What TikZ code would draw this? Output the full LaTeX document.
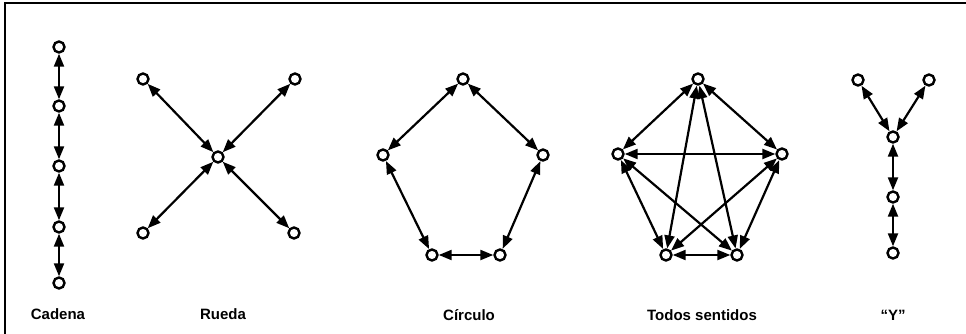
\documentclass[tikz,border=0pt]{standalone}
\usepackage{fontspec}
\setsansfont{Liberation Sans}
\usetikzlibrary{arrows.meta}

\begin{document}
\begin{tikzpicture}[x=1pt,y=-1pt,
    nodo/.style={circle,draw,line width=2.4pt,minimum size=11pt,inner sep=0pt,fill=white},
    enlace/.style={line width=2.2pt,{Triangle[length=13pt,width=10pt]}-{Triangle[length=13pt,width=10pt]}},
    rotulo/.style={font=\sffamily\bfseries\fontsize{15}{17}\selectfont}]
    \useasboundingbox (0,0) rectangle (966,334);
    \draw[line width=1.6pt] (966,3)--(5,3)--(5,334);
    % Cadena
    \foreach \i/\y in {1/47,2/106,3/166,4/227,5/283}
        \node[nodo] (c\i) at (59,\y) {};
    \foreach \i/\j in {1/2,2/3,3/4,4/5}
        \draw[enlace] (c\i)--(c\j);
    \node[rotulo] (lc) at (58,314) {Cadena};
    % Rueda
    \node[nodo] (r0) at (218,157) {};
    \node[nodo] (r1) at (143,79) {};
    \node[nodo] (r2) at (295,79) {};
    \node[nodo] (r3) at (143,233) {};
    \node[nodo] (r4) at (294,233) {};
    \foreach \i in {1,...,4}
        \draw[enlace] (r0)--(r\i);
    \node[rotulo] (lr) at (223,314) {Rueda};
    % Circulo
    \node[nodo] (k1) at (463,79) {};
    \node[nodo] (k2) at (383,155) {};
    \node[nodo] (k3) at (432,255) {};
    \node[nodo] (k4) at (500,255) {};
    \node[nodo] (k5) at (543,155) {};
    \foreach \i/\j in {1/2,2/3,3/4,4/5,5/1}
        \draw[enlace] (k\i)--(k\j);
    \node[rotulo] (lk) at (469,315) {Círculo};
    % Todos sentidos
    \node[nodo] (t1) at (698,79) {};
    \node[nodo] (t2) at (618,154) {};
    \node[nodo] (t3) at (666,255) {};
    \node[nodo] (t4) at (737,255) {};
    \node[nodo] (t5) at (782,154) {};
    \foreach \i/\j in {1/2,2/3,3/4,4/5,5/1,1/3,1/4,2/4,2/5,3/5}
        \draw[enlace] (t\i)--(t\j);
    \node[rotulo] (lt) at (702,315) {Todos sentidos};
    % Y
    \node[nodo] (y1) at (858,80) {};
    \node[nodo] (y2) at (929,80) {};
    \node[nodo] (y3) at (893,137) {};
    \node[nodo] (y4) at (893,197) {};
    \node[nodo] (y5) at (893,253) {};
    \foreach \i/\j in {3/1,3/2,3/4,4/5}
        \draw[enlace] (y\i)--(y\j);
    \node[rotulo] (ly) at (893,315) {“Y”};
\end{tikzpicture}
\end{document}
